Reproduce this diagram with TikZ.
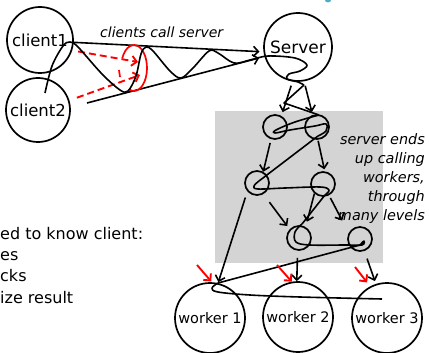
\documentclass[tikz,border=0pt]{standalone}
\usepackage{fontspec}
\setmainfont{DejaVu Sans}
\usetikzlibrary{arrows.meta}
\definecolor{panel}{RGB}{212,212,212}
\definecolor{titlecyan}{RGB}{80,170,200}
\tikzstyle{bubble}=[circle, draw, line width=1.7pt, inner sep=0pt]
\tikzstyle{hop}=[circle, draw, line width=1.7pt, minimum size=24pt, inner sep=0pt]
\tikzstyle{call}=[line width=1.6pt, -{Straight Barb[length=5pt, width=10pt]}]
\tikzstyle{redcall}=[red, line width=1.9pt, -{Straight Barb[length=5pt, width=10pt]}]
\tikzstyle{thread}=[line width=1.6pt, line join=round]

\begin{document}
\begin{tikzpicture}[x=1pt, y=-1pt]
\useasboundingbox (0,0) rectangle (429,353);
% Shaded call tree
    \fill[panel] (215,111) rectangle (383,263);
    \fill[titlecyan] (328,0) ellipse (3pt and 2.5pt);
% Clients and server
    \node[bubble, minimum size=66pt, font=\fontsize{16.5}{18}\selectfont] (client1) at (40,40) {client1};
    \node[bubble, minimum size=64pt, font=\fontsize{16.5}{18}\selectfont] (client2) at (38,110) {client2};
    \node[bubble, minimum size=68pt, font=\fontsize{17}{19}\selectfont] (srv) at (298,47) {Server};
% Inner calls
    \node[hop] (hopA) at (275,127) {};
    \node[hop] (hopB) at (317,127) {};
    \node[hop] (hopC) at (257,183) {};
    \node[hop] (hopD) at (323,184) {};
    \node[hop] (hopE) at (299,238) {};
    \node[hop] (hopF) at (360,239) {};
% Workers
    \node[bubble, minimum size=70pt, font=\fontsize{14.5}{16}\selectfont] (worker1) at (210,318) {worker 1};
    \node[bubble, minimum size=70pt, font=\fontsize{14.5}{16}\selectfont] (worker2) at (298,317) {worker 2};
    \node[bubble, minimum size=70pt, font=\fontsize{14.5}{16}\selectfont] (worker3) at (387,318) {worker 3};
% Labels
    \node[anchor=base west, inner sep=0pt, font=\itshape\fontsize{14}{16}\selectfont] (calllabel) at (100,38) {clients call server};
    \node[anchor=north east, align=right, inner sep=0pt, font=\itshape\fontsize{14.4}{19.2}\selectfont] (treelabel) at (425,133)
        {server ends\\up calling\\workers,\\through\\many levels};
    \node[anchor=north west, align=left, inner sep=0pt, font=\fontsize{16}{21.3}\selectfont] (needlabel) at (0,226.8)
        {ed to know client:\\es\\cks\\ize result};
% Cone of calls
    \coordinate (conefoot) at (87,103);
    \draw[call, shorten >=4pt] (client1.-4) -- (srv.-172);
    \draw[call, shorten >=5.5pt] (conefoot) -- (srv.-164);
% Red ring and dashed requests
    \coordinate (ringin1) at (138,62);
    \coordinate (ringin2) at (140,75);
    \draw[red, line width=1.7pt] (134,68) ++(205:13 and 23) arc[start angle=205, end angle=470, x radius=13, y radius=23];
    \draw[red, line width=1.7pt] (119,70) -- (120,77);
    \draw[redcall, dashed, dash pattern=on 7pt off 4pt, shorten <=6pt] (client1.-18) -- (ringin1);
    \draw[redcall, dashed, dash pattern=on 7pt off 4pt, shorten <=8pt] (client2.17) -- (ringin2);
% Thread of execution
    \draw[thread] plot[smooth, tension=0.55] coordinates {(45,93) (52,66) (63,46) (70,42) (78,47) (102,74) (120,90) (128,91)
        (136,76) (141,54) (146,47) (153,51) (170,71) (181,78) (193,68) (209,51) (218,53) (234,63) (250,60) (268,56)
        (295,58) (307,65) (300,71) (289,74) (287,79) (298,82) (304,85)};
    \draw[thread] (304,85) -- (284,103) -- (319,115);
    \draw[thread] plot[smooth, tension=0.6] coordinates {(319,115) (295,122) (276,130) (275,133) (290,130) (315,126)
        (326,124) (326,131) (318,136)};
    \draw[thread] (318,136) -- (259,181);
    \draw[thread] plot[smooth, tension=0.6] coordinates {(259,181) (254,186) (258,189) (285,188) (320,187) (329,190)
        (325,195)};
    \draw[thread] (325,195) -- (302,224);
    \draw[thread] plot[smooth, tension=0.6] coordinates {(302,224) (295,232) (296,242) (310,245) (345,245) (362,245)
        (364,241) (360,245)};
    \draw[thread] (360,245) -- (218,283);
    \draw[thread] plot[smooth, tension=0.6] coordinates {(218,283) (212,288) (218,292) (250,295) (300,297) (382,299)};
% Calls down the tree
    \draw[call, shorten <=4.5pt, shorten >=4pt] (srv.-99) -- (hopA.60);
    \draw[call, shorten <=4.6pt, shorten >=3pt] (srv.-80) -- (hopB.110);
    \draw[call, shorten <=3.8pt] (hopA.-108) -- (hopC.61);
    \draw[call, shorten <=1pt, shorten >=2pt] (hopB.-86) -- (hopD.82);
    \draw[call, shorten <=10pt, shorten >=4pt] (hopC.-60) -- (hopE.137);
    \draw[call, shorten >=5.5pt] (hopD.-132) -- (hopE.59);
    \draw[call, shorten <=3pt, shorten >=14pt] (hopD.-62) -- (hopF.152);
    \draw[call, shorten <=6.4pt, shorten >=1pt] (hopC.-139) -- (worker1.77);
    \draw[call, shorten <=7pt] (hopE.-96) -- (worker2.92);
    \draw[call, shorten <=8pt, shorten >=3pt] (hopF.-70) -- (worker3.108);
% Red arrows into workers
    \coordinate (red1) at (197,265);
    \coordinate (red2) at (277,265);
    \coordinate (red3) at (355,267);
    \draw[redcall, shorten >=1pt] (red1) -- (worker1.87);
    \draw[redcall] (red2) -- (worker2.100);
    \draw[redcall, shorten >=5pt] (red3) -- (worker3.118);
\end{tikzpicture}
\end{document}
